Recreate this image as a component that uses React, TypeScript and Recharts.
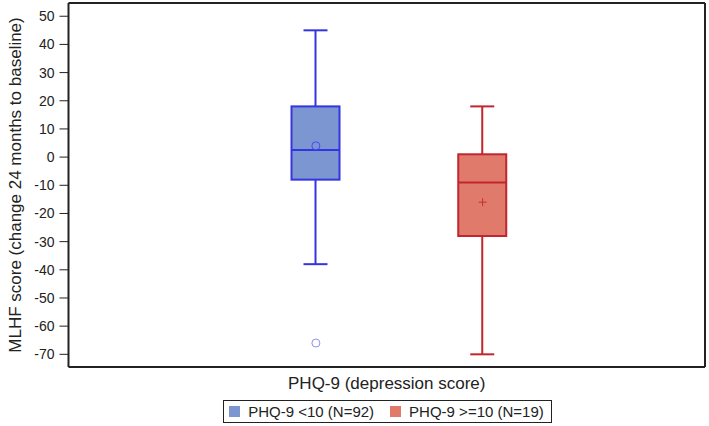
import React from 'react'
import { ComposedChart, Bar, Scatter, XAxis, YAxis, Legend } from 'recharts'

const groups = ['PHQ-9 <10 (N=92)', 'PHQ-9 >=10 (N=19)']
const whiskerLow = [-38, -70]
const q1 = [-8, -28]
const median = [2.5, -9]
const q3 = [18, 1]
const whiskerHigh = [45, 18]
const means = [4, -16]
const outliers: (number | null)[] = [-66, null]
const yTicks = [-70, -60, -50, -40, -30, -20, -10, 0, 10, 20, 30, 40, 50]
const yDomain = [-74.5, 54.7]

const fills = ['#7b96d0', '#e07b6c']
const strokes = ['#3434e2', '#c1262e']

const data = groups.map((g, i) => ({
  group: g,
  idx: i,
  low: whiskerLow[i],
  q1: q1[i],
  median: median[i],
  q3: q3[i],
  high: whiskerHigh[i],
  mean: means[i],
  outlier: outliers[i],
}))

const font = 'Arial, "Liberation Sans", sans-serif'

// box drawn from the whisker range bar; inner values placed on the same linear scale
const BoxShape = (props: any) => {
  const { x, y, width, height, payload } = props
  const top = Math.min(y, y + height)
  const bot = Math.max(y, y + height)
  const toY = (v: number) => bot - ((v - payload.low) / (payload.high - payload.low)) * (bot - top)
  const cx = x + width / 2
  const cap = width / 2
  const stroke = strokes[payload.idx]
  const yq1 = toY(payload.q1)
  const yq3 = toY(payload.q3)
  const ymed = toY(payload.median)
  return (
    <g>
      <line x1={cx} x2={cx} y1={top} y2={yq3} stroke={stroke} strokeWidth={2} />
      <line x1={cx} x2={cx} y1={yq1} y2={bot} stroke={stroke} strokeWidth={2} />
      <line x1={cx - cap / 2} x2={cx + cap / 2} y1={top} y2={top} stroke={stroke} strokeWidth={2} />
      <line x1={cx - cap / 2} x2={cx + cap / 2} y1={bot} y2={bot} stroke={stroke} strokeWidth={2} />
      <rect x={x} y={yq3} width={width} height={yq1 - yq3} fill={fills[payload.idx]} stroke={stroke} strokeWidth={2} />
      <line x1={x} x2={x + width} y1={ymed} y2={ymed} stroke={stroke} strokeWidth={2} />
    </g>
  )
}

const MeanShape = (props: any) => {
  const { cx, cy, payload } = props
  if (payload.idx === 0) {
    return <circle cx={cx} cy={cy} r={4} fill="none" stroke="#4a4ae8" strokeWidth={1} />
  }
  return (
    <g stroke="#c0303a" strokeWidth={1}>
      <line x1={cx - 4} x2={cx + 4} y1={cy} y2={cy} />
      <line x1={cx} x2={cx} y1={cy - 4} y2={cy + 4} />
    </g>
  )
}

const OutlierShape = (props: any) => {
  const { cx, cy, payload } = props
  if (payload.outlier == null || !isFinite(cy)) return <g />
  return <circle cx={cx} cy={cy} r={4} fill="none" stroke="#8f8ff2" strokeWidth={1} />
}

const LegendBox = () => (
  <div style={{ height: 33, paddingTop: 7, paddingLeft: 69, boxSizing: 'border-box', display: 'flex', justifyContent: 'center' }}>
    <div
      style={{
        display: 'flex',
        alignItems: 'center',
        border: '1.5px solid #222',
        height: 23,
        boxSizing: 'border-box',
        padding: '0 7px 0 5px',
        fontFamily: font,
        fontSize: 15,
        color: '#222',
      }}
    >
      {groups.map((g, i) => (
        <span key={g} style={{ display: 'flex', alignItems: 'center', marginRight: i === 0 ? 16 : 0 }}>
          <span style={{ width: 11, height: 11, background: fills[i], marginRight: 8, display: 'inline-block' }} />
          {g}
        </span>
      ))}
    </div>
  </div>
)

export default function App() {
  return (
    <div style={{ position: 'absolute', left: 0, top: 0, background: '#fff' }}>
      <ComposedChart width={709} height={426} data={data} margin={{ top: 2, right: 3, bottom: 0, left: 0 }}>
        <XAxis
          dataKey="group"
          tick={false}
          tickLine={false}
          height={26}
          padding={{ left: 164, right: 139 }}
          axisLine={{ stroke: '#222', strokeWidth: 2 }}
          label={{ value: 'PHQ-9 (depression score)', position: 'insideBottom', offset: 4, fill: '#222', fontSize: 17, fontFamily: font }}
        />
        <XAxis
          xAxisId="top"
          orientation="top"
          dataKey="group"
          tick={false}
          tickLine={false}
          height={1}
          axisLine={{ stroke: '#222', strokeWidth: 2 }}
        />
        <YAxis
          type="number"
          domain={yDomain}
          ticks={yTicks}
          width={68.5}
          tickSize={9}
          tickMargin={5}
          interval={0}
          axisLine={{ stroke: '#222', strokeWidth: 2 }}
          tickLine={{ stroke: '#222', strokeWidth: 1 }}
          tick={{ fill: '#222', fontSize: 14, fontFamily: font }}
          label={{
            value: 'MLHF score (change 24 months to baseline)',
            angle: -90,
            position: 'insideLeft',
            offset: 15,
            style: { textAnchor: 'middle' },
            fill: '#222',
            fontSize: 17,
            fontFamily: font,
          }}
        />
        <YAxis
          yAxisId="right"
          orientation="right"
          type="number"
          domain={yDomain}
          width={1}
          tick={false}
          tickLine={false}
          axisLine={{ stroke: '#222', strokeWidth: 2 }}
        />
        <Legend verticalAlign="bottom" content={<LegendBox />} />
        <Bar dataKey={(d: any) => [d.low, d.high]} barSize={48} shape={<BoxShape />} isAnimationActive={false} />
        <Scatter dataKey="outlier" shape={<OutlierShape />} isAnimationActive={false} />
        <Scatter dataKey="mean" shape={<MeanShape />} isAnimationActive={false} />
      </ComposedChart>
    </div>
  )
}
